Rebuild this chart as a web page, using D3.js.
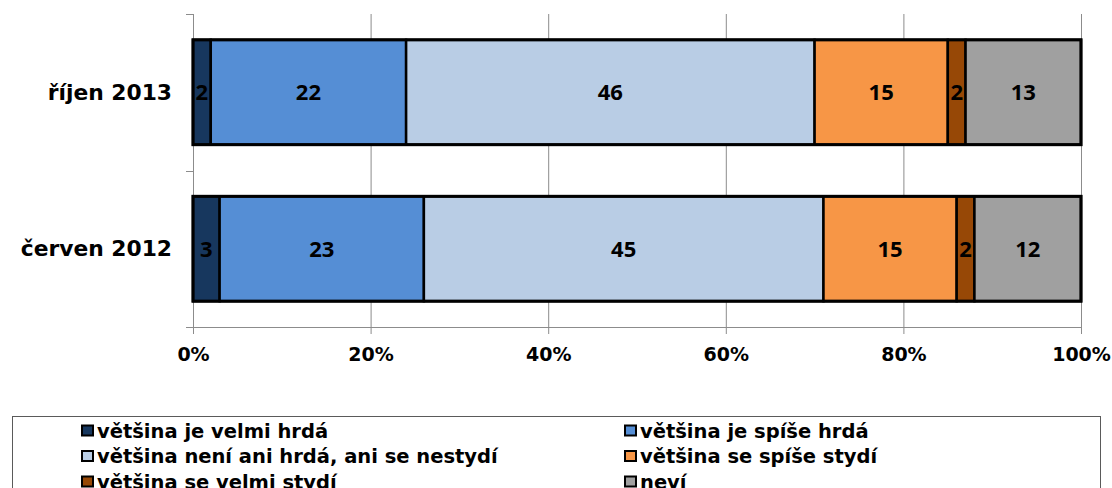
<!DOCTYPE html>
<html>
<head>
<meta charset="utf-8">
<script src="https://cdn.jsdelivr.net/npm/d3@7"></script>
<style>
  body { margin: 0; background: #fff; }
  svg { display: block; }
</style>
</head>
<body>
<div id="chart"></div>
<script>
const categories = ['říjen 2013', 'červen 2012'];
const seriesNames = [
  'většina je velmi hrdá',
  'většina je spíše hrdá',
  'většina není ani hrdá, ani se nestydí',
  'většina se spíše stydí',
  'většina se velmi stydí',
  'neví'
];
const seriesColors = ['#17375e', '#558ed5', '#b9cde5', '#f79646', '#974806', '#a0a0a0'];
const values = [
  [2, 22, 46, 15, 2, 13],
  [3, 23, 45, 15, 2, 12]
];
const xTicks = [0, 20, 40, 60, 80, 100];

const width = 1112, height = 488;
const margin = {top: 14, right: 31, bottom: 161, left: 193};
const innerW = width - margin.left - margin.right;
const innerH = height - margin.top - margin.bottom;

const svg = d3.select('#chart').append('svg')
  .attr('width', width)
  .attr('height', height);

const g = svg.append('g')
  .attr('transform', `translate(${margin.left},${margin.top})`);

const x = d3.scaleLinear().domain([0, 100]).range([0, innerW]);
const y = d3.scaleBand().domain(categories).range([0, innerH]).paddingInner(0.33).paddingOuter(0.165);
const yTickBand = d3.scaleBand().domain(categories).range([0, innerH]);

// vertical gridlines
g.append('g')
  .attr('transform', `translate(0,${innerH})`)
  .call(d3.axisBottom(x).tickValues(xTicks).tickSize(-innerH).tickSizeOuter(0).tickFormat(''))
  .call(a => a.select('.domain').remove())
  .call(a => a.selectAll('line').attr('stroke', '#8c8c8c'));

// x axis with percent labels
g.append('g')
  .attr('transform', `translate(0,${innerH})`)
  .call(d3.axisBottom(x).tickValues(xTicks).tickSize(7).tickFormat(d => d + '%').tickPadding(14))
  .call(a => a.select('.domain').attr('stroke', '#8c8c8c').attr('d', `M-7,0.5H${innerW}`))
  .call(a => a.selectAll('line').attr('stroke', '#8c8c8c'))
  .call(a => a.selectAll('text')
    .attr('font-family', 'DejaVu Sans')
    .attr('font-weight', 'bold')
    .attr('font-size', 19)
    .attr('fill', '#000'));

// left axis: ticks between categories
const yBounds = [0, yTickBand.bandwidth(), innerH];
g.append('line')
  .attr('x1', 0.5).attr('x2', 0.5)
  .attr('y1', 0).attr('y2', innerH)
  .attr('stroke', '#8c8c8c');
g.selectAll('.ytick')
  .data(yBounds)
  .join('line')
  .attr('class', 'ytick')
  .attr('x1', -7).attr('x2', 0)
  .attr('y1', d => Math.round(d) + 0.5).attr('y2', d => Math.round(d) + 0.5)
  .attr('stroke', '#8c8c8c');

g.selectAll('.ylabel')
  .data(categories)
  .join('text')
  .attr('class', 'ylabel')
  .attr('x', -21)
  .attr('y', d => y(d) + y.bandwidth() / 2)
  .attr('dy', '0.35em')
  .attr('text-anchor', 'end')
  .attr('font-family', 'DejaVu Sans')
  .attr('font-weight', 'bold')
  .attr('font-size', 21.8)
  .text(d => d);

// stacked bars
const rows = categories.map((c, i) => {
  let acc = 0;
  return values[i].map((v, j) => {
    const seg = {cat: c, s: j, v: v, x0: acc, x1: acc + v};
    acc += v;
    return seg;
  });
});

const segs = rows.flat();
g.selectAll('.seg')
  .data(segs)
  .join('rect')
  .attr('class', 'seg')
  .attr('x', d => x(d.x0))
  .attr('y', d => y(d.cat))
  .attr('width', d => x(d.x1) - x(d.x0))
  .attr('height', y.bandwidth())
  .attr('fill', d => seriesColors[d.s])
  .attr('stroke', '#000')
  .attr('stroke-width', 2.5);

g.selectAll('.outline')
  .data(categories)
  .join('rect')
  .attr('class', 'outline')
  .attr('x', x(0))
  .attr('y', d => y(d))
  .attr('width', x(100) - x(0))
  .attr('height', y.bandwidth())
  .attr('fill', 'none')
  .attr('stroke', '#000')
  .attr('stroke-width', 3);

g.selectAll('.val')
  .data(segs)
  .join('text')
  .attr('class', 'val')
  .attr('x', d => x((d.x0 + d.x1) / 2))
  .attr('y', d => y(d.cat) + y.bandwidth() / 2)
  .attr('dy', '0.36em')
  .attr('text-anchor', 'middle')
  .attr('font-family', 'Open Sans')
  .attr('font-weight', 'bold')
  .attr('font-size', 22)
  .attr('fill', '#000')
  .text(d => d.v);

// legend
const legend = svg.append('g');
legend.append('rect')
  .attr('x', 12.5).attr('y', 416.5)
  .attr('width', 1088).attr('height', 90)
  .attr('fill', '#fff')
  .attr('stroke', '#5a5a5a')
  .attr('stroke-width', 1);

const legItems = legend.selectAll('.leg')
  .data(seriesNames)
  .join('g')
  .attr('class', 'leg')
  .attr('transform', (d, i) => `translate(${i % 2 === 0 ? 81 : 624},${430.5 + Math.floor(i / 2) * 25.5})`);

legItems.append('rect')
  .attr('x', 1).attr('y', -5)
  .attr('width', 11).attr('height', 10)
  .attr('fill', (d, i) => seriesColors[i])
  .attr('stroke', '#000')
  .attr('stroke-width', 2);

legItems.append('text')
  .attr('x', 16)
  .attr('y', 0)
  .attr('dy', '0.36em')
  .attr('font-family', 'DejaVu Sans')
  .attr('font-weight', 'bold')
  .attr('font-size', 19.5)
  .attr('fill', '#000')
  .text(d => d);
</script>
</body>
</html>
